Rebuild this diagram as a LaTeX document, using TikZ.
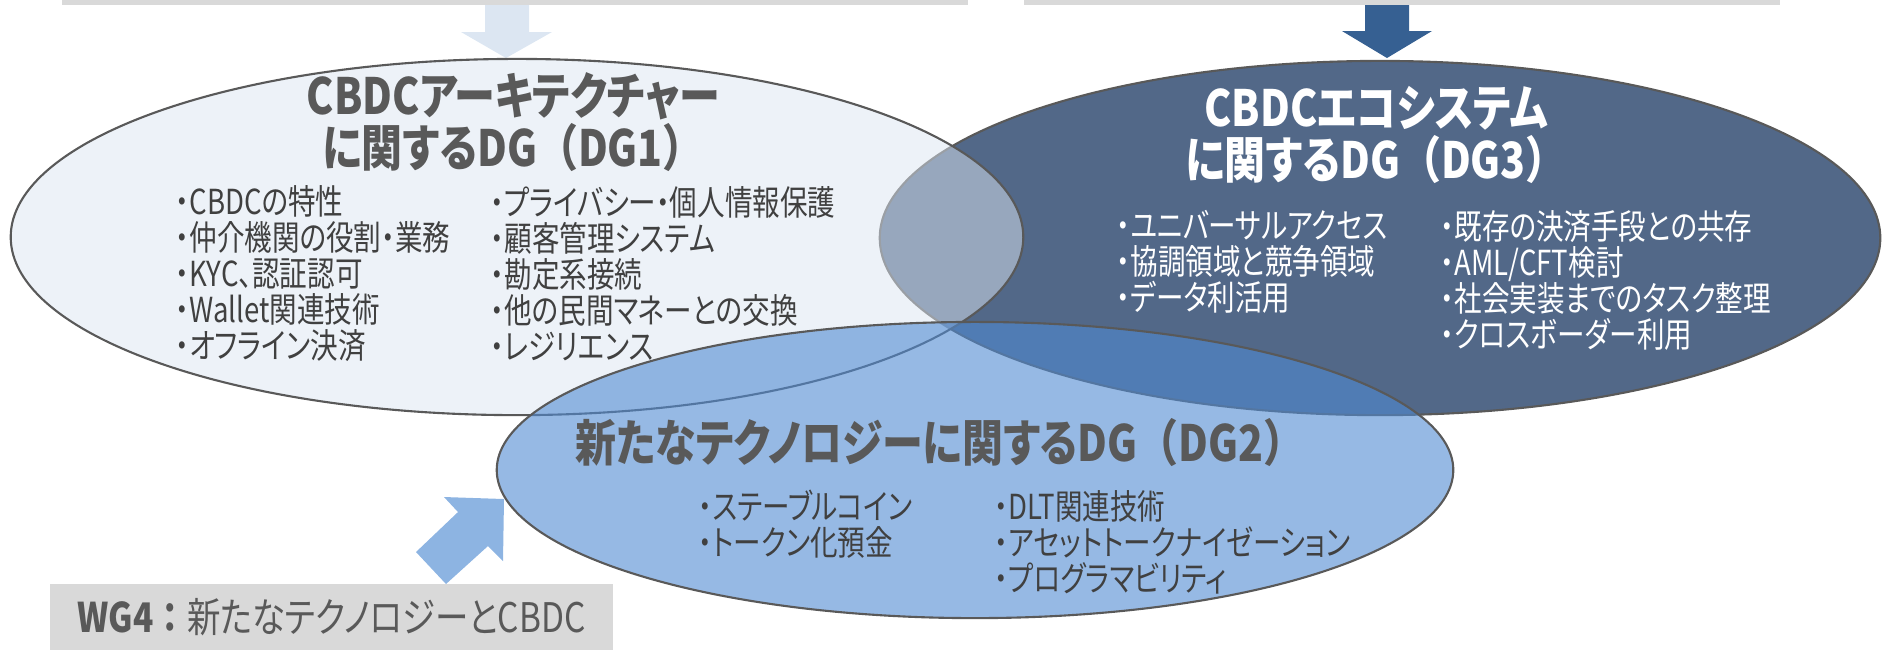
\documentclass[tikz,border=0pt]{standalone}
\usepackage{fontspec}
\newfontfamily\jpfont[RawFeature=+palt]{Noto Sans CJK JP}
\newfontfamily\jpnarrow[RawFeature=+palt, FakeStretch=0.8]{Noto Sans CJK JP}
\newfontfamily\jptitle[RawFeature=+palt, FakeStretch=0.82]{Noto Sans CJK JP}
\newfontfamily\jpfull[FakeStretch=0.82]{Noto Sans CJK JP}
\newcommand\dgpar[1]{{\jpfull （}#1{\jpfull ）}}
\usetikzlibrary{shapes.geometric}
\definecolor{bargray}{HTML}{D9D9D9}
\definecolor{linegray}{HTML}{595959}
\definecolor{titlegray}{HTML}{595959}
\definecolor{itemgray}{HTML}{404040}
\definecolor{arrowlight}{HTML}{DCE6F2}
\definecolor{arrowdark}{HTML}{366092}
\definecolor{arrowmid}{HTML}{8DB4E2}
\definecolor{dglight}{HTML}{DCE6F2}
\definecolor{dgdark}{HTML}{526888}
\definecolor{dgblue}{HTML}{508AD2}
\tikzset{
  dgshape/.style={ellipse, draw=linegray, line width=0.6pt, inner sep=0pt},
  dgtitle/.style={font=\jptitle\bfseries\fontsize{14.2}{15}\selectfont, align=center, text=titlegray, inner sep=0pt},
  dgitems/.style={font=\jpnarrow\fontsize{9.8}{10.24}\selectfont, align=left, anchor=west, inner sep=0pt, text=itemgray},
  wgbox/.style={fill=bargray, minimum width=5.63cm, minimum height=0.66cm, inner sep=0pt, text=titlegray, font=\jptitle\fontsize{11.6}{12}\selectfont}
}
\begin{document}
\begin{tikzpicture}[x=0.01cm,y=-0.01cm]
	\useasboundingbox (0,0) rectangle (1883,650);
	\fill[bargray] (62,0) rectangle (968,5);
	\fill[bargray] (1024,0) rectangle (1780,5);
	\fill[arrowlight] (485,5) -- (529,5) -- (529,32) -- (552,32) -- (506,58) -- (461,32) -- (485,32) -- cycle;
	\fill[arrowdark] (1365,5) -- (1409,5) -- (1409,31) -- (1432,31) -- (1387,58) -- (1342,31) -- (1365,31) -- cycle;
	\node[dgshape, fill=dgdark, minimum width=10cm, minimum height=3.54cm] (dgthree) at (1380,238) {};
	\node[dgshape, fill=dglight, fill opacity=0.5, minimum width=10.12cm, minimum height=3.56cm] (dgone) at (517,237) {};
	\node[dgshape, fill=dgblue, fill opacity=0.6, minimum width=9.56cm, minimum height=2.96cm] (dgtwo) at (975,470) {};
	\node[dgtitle] (tone) at (513,122) {CBDCアーキテクチャー\\に関するDG\dgpar{DG1}};
	\node[dgtitle, text=white] (tthree) at (1376,135) {CBDCエコシステム\\に関するDG\dgpar{DG3}};
	\node[dgtitle] (ttwo) at (940,442) {新たなテクノロジーに関するDG\dgpar{DG2}};
	\node[dgitems] (ionea) at (175,274) {・CBDCの特性\\・仲介機関の役割・業務\\・KYC、認証認可\\・Wallet関連技術\\・オフライン決済};
	\node[dgitems] (ioneb) at (490,274) {・プライバシー・個人情報保護\\・顧客管理システム\\・勘定系接続\\・他の民間マネーとの交換\\・レジリエンス};
	\node[dgitems, text=white] (ithreea) at (1116,262) {・ユニバーサルアクセス\\・協調領域と競争領域\\・データ利活用};
	\node[dgitems, text=white] (ithreeb) at (1440,280) {・既存の決済手段との共存\\・AML/CFT検討\\・社会実装までのタスク整理\\・クロスボーダー利用};
	\node[dgitems] (itwoa) at (698,524) {・ステーブルコイン\\・トークン化預金};
	\node[dgitems] (itwob) at (994,542) {・DLT関連技術\\・アセットトークナイゼーション\\・プログラマビリティ};
	\fill[arrowmid] (504,499) -- (444,497) -- (458,512) -- (416,552) -- (446,584) -- (488,546) -- (503,561) -- cycle;
	\node[wgbox] (wgfour) at (331.5,617) {{\bfseries WG4{\jpfull ：}}新たなテクノロジーとCBDC};
\end{tikzpicture}
\end{document}
